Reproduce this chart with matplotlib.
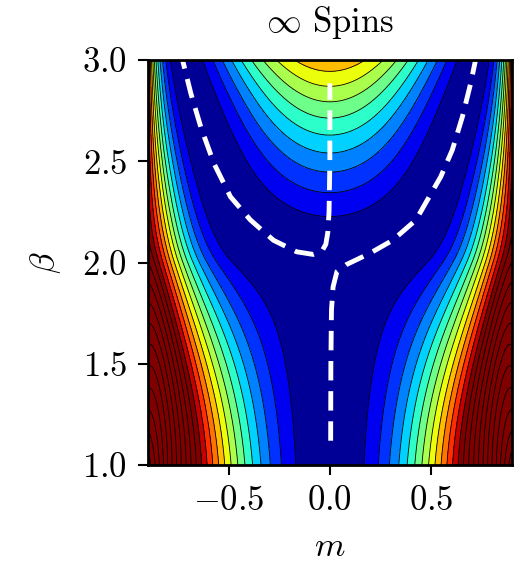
import numpy as np
import matplotlib
matplotlib.use("Agg")
from matplotlib import pyplot as plt

plt.rcParams["font.family"] = "serif"
plt.rcParams["font.serif"] = ["cmr10"]
plt.rcParams["mathtext.fontset"] = "cm"
plt.rcParams["axes.formatter.use_mathtext"] = True

# band edges (value = contour level index, navy band is 0..1)
m_b102 = [0.156, 0.229, 0.279, 0.320, 0.360, 0.402, 0.442, 0.479, 0.516, 0.557, 0.590, 0.623, 0.70, 0.80, 0.893]
z_b102 = [1, 2, 3, 4, 5, 6, 7, 8, 9, 10, 11, 12, 15.4, 19.9, 24]
m_b150 = [0.205, 0.279, 0.336, 0.393, 0.442, 0.483, 0.71, 0.893]
z_b150 = [1, 2, 3, 4, 5, 6, 12, 21]
m_b180 = [0.295, 0.377]
z_b180 = [1, 2]
m_b200 = [0.445, 0.524, 0.565, 0.606, 0.647, 0.68, 0.713, 0.746, 0.77, 0.795, 0.82, 0.844, 0.868, 0.893]
z_b200 = [1, 2, 3, 4, 5, 6, 7, 8, 9, 10, 11, 12, 13, 14.5]
m_b250 = [0.0, 0.328, 0.615, 0.655, 0.688, 0.718, 0.746, 0.9]
z_b250 = [3.8, 1, 1, 2, 3, 4, 5, 13]
m_b300 = [0.0, 0.18, 0.27, 0.335, 0.385, 0.442, 0.49, 0.54, 0.58, 0.623, 0.80, 0.826, 0.863, 0.9]
z_b300 = [9.5, 9, 8, 7, 6, 5, 4, 3, 2, 1, 1, 2, 7, 12]

# level crossings along m = 0
beta_m0 = [2.21, 2.325, 2.424, 2.516, 2.605, 2.695, 2.78, 2.86, 2.975]
z_m0 = [1, 2, 3, 4, 5, 6, 7, 8, 9]

# position of the minimum above the transition
beta_min = [2.0, 2.045, 2.11, 2.21, 2.325, 2.424, 2.49, 2.556, 2.67, 2.72, 2.835, 2.885, 3.0]
m_min = [0.0, 0.19, 0.30, 0.41, 0.49, 0.549, 0.574, 0.606, 0.64, 0.656, 0.688, 0.697, 0.725]

# white dashed paths
path1_m = [-0.745, -0.729, -0.688, -0.639, -0.574, -0.492, -0.393, -0.279, -0.164, -0.082, -0.040,
           -0.020, -0.010, -0.004, 0.0, 0.0]
path1_beta = [3.05, 3.0, 2.835, 2.67, 2.49, 2.325, 2.21, 2.11, 2.053, 2.040, 2.055,
              2.09, 2.15, 2.25, 2.5, 2.885]
path2_m = [0.004, 0.005, 0.008, 0.016, 0.035, 0.082, 0.197, 0.311, 0.426, 0.492, 0.549, 0.606,
           0.656, 0.697, 0.721, 0.73]
path2_beta = [1.12, 1.5, 1.765, 1.88, 1.955, 1.99, 2.045, 2.11, 2.21, 2.325, 2.424, 2.556,
              2.72, 2.885, 3.0, 3.05]

# powers of m and the powers of (beta - 2) each one gets
terms = {2: [1, 2, 3], 4: [0, 1, 2, 3], 6: [0, 1, 2, 3], 8: [0, 1, 2], 12: [0, 1, 2], 16: [0, 1]}
ridge = 1e-3


def basis(m, b, deriv=False):
    m = np.asarray(m, float)
    b = np.asarray(b, float) - 2.0
    cols = []
    for p, qs in terms.items():
        mp = p * m ** (p - 1) if deriv else m ** p
        for q in qs:
            cols.append(mp * b ** q)
    return np.stack(cols, axis=-1)


def mstar(b):
    return np.interp(b, beta_min, m_min, left=0.0)


rows = []
rhs = []
for b, ms, zs, w in [(1.02, m_b102, z_b102, 1.0), (1.5, m_b150, z_b150, 1.0), (1.815, m_b180, z_b180, 1.0),
                     (2.0, m_b200, z_b200, 1.0), (2.5, m_b250, z_b250, 1.5), (3.0, m_b300, z_b300, 2.5)]:
    for m, z in zip(ms, zs):
        rows.append(w * (basis(m, b) - basis(mstar(b), b)))
        rhs.append(w * z)
for b, z in zip(beta_m0, z_m0):
    rows.append(3.0 * (basis(0.0, b) - basis(mstar(b), b)))
    rhs.append(3.0 * z)
for b, m in zip(beta_min[1:], m_min[1:]):
    rows.append(0.3 * basis(m, b, deriv=True))
    rhs.append(0.0)
A = np.array(rows)
y = np.array(rhs)
norms = np.linalg.norm(A, axis=0)
As = A / norms
coef = np.linalg.solve(As.T @ As + ridge * np.eye(As.shape[1]), As.T @ y) / norms

m_grid = np.linspace(-0.9, 0.9, 721)
beta_grid = np.linspace(1.0, 3.0, 401)
M, B = np.meshgrid(m_grid, beta_grid)
S = basis(M, B) @ coef
S_ref = (basis(mstar(beta_grid), beta_grid) @ coef)[:, None]
Z = S - S_ref

line_levels = np.arange(1, 60)
fill_levels = np.r_[-50, line_levels]
band_t = np.clip((np.arange(len(fill_levels) - 1) + 0.3) / 13.1, 0, 1)
band_colors = [plt.cm.jet(t) for t in band_t]

fig = plt.figure(figsize=(5.26, 5.66), dpi=100)
ax = fig.add_axes([0.2814, 0.1784, 0.6914, 0.7155])
ax.contourf(M, B, Z, levels=fill_levels, colors=band_colors)
ax.contour(M, B, Z, levels=line_levels, colors="k", linewidths=0.6)

ax.plot(path1_m, path1_beta, color="w", lw=3.5, ls=(0, (4, 2.2)))
ax.plot(path2_m, path2_beta, color="w", lw=3.5, ls=(0, (4, 2.2)))

ax.set_xlim(-0.9, 0.9)
ax.set_ylim(1.0, 3.0)
ax.set_xticks([-0.5, 0.0, 0.5])
ax.set_yticks([1.0, 1.5, 2.0, 2.5, 3.0])
ax.tick_params(labelsize=25, length=7, width=1.5, pad=8)
for s in ax.spines.values():
    s.set_linewidth(2)
ax.set_xlabel("$m$", fontsize=25, labelpad=10)
ax.set_ylabel(r"$\beta$", fontsize=25, labelpad=14)
ax.set_title(r"$\infty$ Spins", fontsize=25, pad=20)

fig.savefig("out.png", dpi=100)
